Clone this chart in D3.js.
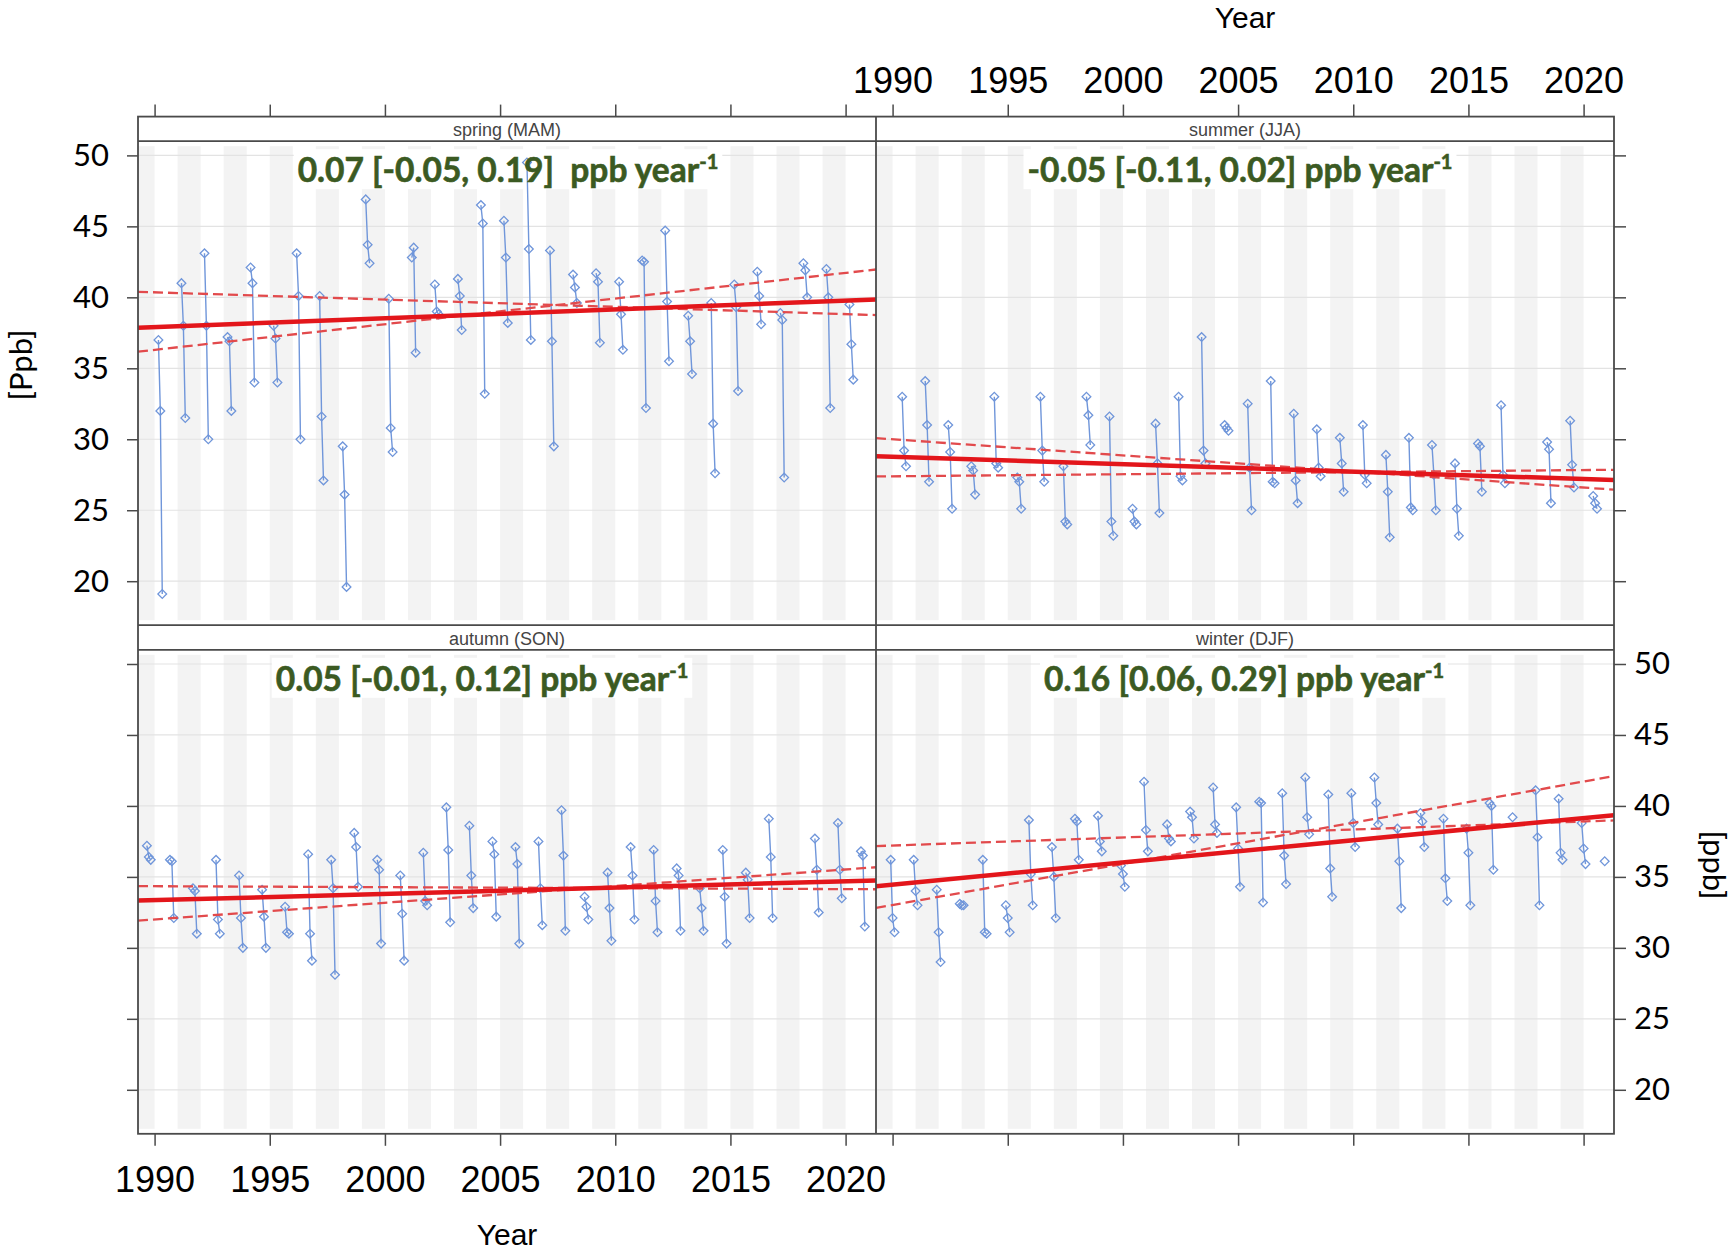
<!DOCTYPE html>
<html>
<head>
<meta charset="utf-8">
<script src="https://cdn.jsdelivr.net/npm/d3@7"></script>
<style>
  body { margin: 0; background: #fff; }
  svg { display: block; }
</style>
</head>
<body>
<svg id="chart"></svg>
<script>
// ---- data ----
const xDomain = [1989.28, 2021.32];
const yDomain = [16.9, 51.0];
const yearTicks = [1990, 1995, 2000, 2005, 2010, 2015, 2020];
const ppbTicks = [20, 25, 30, 35, 40, 45, 50];
const shadeYears = [1989, 1991, 1993, 1995, 1997, 1999, 2001, 2003, 2005, 2007, 2009, 2011, 2013, 2015, 2017, 2019];

const seasonLabels = ['spring (MAM)', 'summer (JJA)', 'autumn (SON)', 'winter (DJF)'];
const slopeTexts = ['0.07 [-0.05, 0.19]  ppb year', '-0.05 [-0.11, 0.02] ppb year', '0.05 [-0.01, 0.12] ppb year', '0.16 [0.06, 0.29] ppb year'];

// month of each of the three values (0 = December of the year before)
const springMonths = [3, 4, 5];
const summerMonths = [6, 7, 8];
const autumnMonths = [9, 10, 11];
const winterMonths = [0, 1, 2];

const springYears = [1990, 1991, 1992, 1993, 1994, 1995, 1996, 1997, 1998, 1999, 2000, 2001, 2002, 2003, 2004, 2005,
  2006, 2007, 2008, 2009, 2010, 2011, 2012, 2013, 2014, 2015, 2016, 2017, 2018, 2019, 2020];
const springValues = [
  [37.0, 32.0, 19.1], [41.0, 38.0, 31.5], [43.1, 38.0, 30.0], [37.2, 36.9, 32.0], [42.1, 41.0, 34.0],
  [38.0, 37.1, 34.0], [43.1, 40.1, 30.0], [40.1, 31.6, 27.1], [29.5, 26.1, 19.6], [46.9, 43.7, 42.4],
  [39.9, 30.8, 29.1], [42.8, 43.5, 36.1], [40.9, 39.0, 38.8], [41.3, 40.1, 37.7], [46.5, 45.2, 33.2],
  [45.4, 42.8, 38.2], [49.5, 43.4, 37.0], [43.3, 36.9, 29.5], [41.6, 40.7, 39.6], [41.7, 41.1, 36.8],
  [41.1, 38.8, 36.3], [42.6, 42.5, 32.2], [44.7, 39.7, 35.5], [38.7, 36.9, 34.6], [39.6, 31.1, 27.6],
  [40.9, 39.3, 33.4], [41.8, 40.1, 38.1], [38.9, 38.4, 27.3], [42.4, 41.9, 40.0], [42.0, 40.0, 32.2],
  [39.5, 36.7, 34.2]
];

const summerYears = [1990, 1991, 1992, 1993, 1994, 1995, 1996, 1997, 1998, 1999, 2000, 2001, 2002, 2003, 2004, 2005,
  2006, 2007, 2008, 2009, 2010, 2011, 2012, 2013, 2014, 2015, 2016, 2018, 2019, 2020];
const summerValues = [
  [33.0, 29.2, 28.1], [34.1, 31.0, 27.0], [31.0, 29.1, 25.1], [28.1, 27.8, 26.1], [33.0, 28.3, 28.0],
  [27.3, 27.0, 25.1], [33.0, 29.2, 27.0], [28.1, 24.2, 24.0], [33.0, 31.7, 29.6], [31.6, 24.2, 23.2],
  [25.1, 24.2, 24.0], [31.1, 28.3, 24.8], [33.0, 27.4, 27.1], [37.2, 29.2, 28.3], [31.0, 30.8, 30.6],
  [32.5, 28.0, 25.0], [34.1, 27.0, 26.9], [31.8, 27.1, 25.5], [30.7, 28.0, 27.4], [30.1, 28.3, 26.3],
  [31.0, 27.5, 26.9], [28.9, 26.3, 23.1], [30.1, 25.2, 25.0], [29.6, 27.5, 25.0], [28.3, 25.1, 23.2],
  [29.7, 29.5, 26.3], [32.4, 27.5, 26.9], [29.8, 29.3, 25.5], [31.3, 28.2, 26.6], [26.0, 25.5, 25.1]
];

const autumnYears = [1989, 1990, 1991, 1992, 1993, 1994, 1995, 1996, 1997, 1998, 1999, 2000, 2001, 2002, 2003, 2004,
  2005, 2006, 2007, 2008, 2009, 2010, 2011, 2012, 2013, 2014, 2015, 2016, 2018, 2019, 2020];
const autumnValues = [
  [37.2, 36.4, 36.2], [36.2, 36.1, 32.1], [34.2, 34.0, 31.0], [36.2, 32.0, 31.0], [35.1, 32.1, 30.0],
  [34.1, 32.2, 30.0], [32.9, 31.1, 31.0], [36.6, 31.0, 29.1], [36.2, 34.2, 28.1], [38.1, 37.1, 34.3],
  [36.2, 35.5, 30.3], [35.1, 32.4, 29.1], [36.7, 33.3, 33.0], [39.9, 36.9, 31.8], [38.6, 35.1, 32.8],
  [37.5, 36.6, 32.2], [37.1, 35.9, 30.3], [37.5, 34.2, 31.6], [39.7, 36.5, 31.2], [33.6, 32.9, 32.0],
  [35.3, 32.8, 30.5], [37.1, 35.1, 32.0], [36.9, 33.3, 31.1], [35.6, 35.1, 31.2], [34.2, 32.8, 31.2],
  [36.9, 33.6, 30.3], [35.3, 34.8, 32.1], [39.1, 36.4, 32.1], [37.7, 35.5, 32.5], [38.8, 35.5, 33.5],
  [36.8, 36.5, 31.5]
];

const winterYears = [1990, 1991, 1992, 1993, 1994, 1995, 1996, 1997, 1998, 1999, 2000, 2001, 2002, 2003, 2004, 2005,
  2006, 2007, 2008, 2009, 2010, 2011, 2012, 2013, 2014, 2015, 2016, 2017, 2018, 2019, 2020, 2021];
const winterValues = [
  [36.2, 32.1, 31.1], [36.2, 34.0, 33.0], [34.1, 31.1, 29.0], [33.1, 33.0, 33.0], [36.2, 31.1, 31.0],
  [33.0, 32.1, 31.1], [39.0, 35.2, 33.0], [37.1, 35.0, 32.1], [39.1, 38.9, 36.2], [39.3, 37.5, 36.8],
  [35.8, 35.2, 34.3], [41.7, 38.3, 36.8], [38.7, 37.7, 37.5], [39.6, 39.2, 37.7], [41.3, 38.7, 38.1],
  [39.9, 37.0, 34.3], [40.3, 40.2, 33.2], [40.9, 36.5, 34.5], [42.0, 39.2, 38.0], [40.8, 35.6, 33.6],
  [40.9, 38.8, 37.1], [42.0, 40.2, 38.7], [38.4, 36.1, 32.8], [39.5, 38.9, 37.1], [39.1, 34.9, 33.3],
  [38.4, 36.7, 33.0], [40.2, 40.0, 35.5], [39.2, null, null], [41.1, 37.8, 33.0], [40.5, 36.7, 36.2],
  [38.8, 37.0, 35.9], [36.1, null, null]
];

// trend lines: value at the left and right edge of the panel
const springTrend = [37.86, 39.85], springLower = [40.39, 38.75], springUpper = [36.17, 41.96];
const summerTrend = [28.80, 27.13], summerLower = [30.08, 26.45], summerUpper = [27.38, 27.85];
const autumnTrend = [33.33, 34.75], autumnLower = [34.35, 34.13], autumnUpper = [31.92, 35.68];
const winterTrend = [34.34, 39.35], winterLower = [37.17, 38.98], winterUpper = [32.81, 42.10];

// ---- layout ----
const width = 1734, height = 1253;
const panelW = 738, stripH = 24.6, plotH = 484;
const colX = [138, 876];
const rowY = [116.6, 625.2];

const panels = [
  { label: seasonLabels[0], years: springYears, values: springValues, months: springMonths,
    trend: springTrend, lower: springLower, upper: springUpper, text: slopeTexts[0], col: 0, row: 0, textX: 508 },
  { label: seasonLabels[1], years: summerYears, values: summerValues, months: summerMonths,
    trend: summerTrend, lower: summerLower, upper: summerUpper, text: slopeTexts[1], col: 1, row: 0, textX: 1240 },
  { label: seasonLabels[2], years: autumnYears, values: autumnValues, months: autumnMonths,
    trend: autumnTrend, lower: autumnLower, upper: autumnUpper, text: slopeTexts[2], col: 0, row: 1, textX: 482 },
  { label: seasonLabels[3], years: winterYears, values: winterValues, months: winterMonths,
    trend: winterTrend, lower: winterLower, upper: winterUpper, text: slopeTexts[3], col: 1, row: 1, textX: 1244 }
];

const frameColor = '#4a4a4a';
const blue = '#7096da';
const textGreen = '#3b5a22';

const svg = d3.select('#chart')
  .attr('width', width)
  .attr('height', height)
  .attr('viewBox', `0 0 ${width} ${height}`);

svg.append('rect').attr('width', width).attr('height', height).attr('fill', '#fff');

const defs = svg.append('defs');
const diamond = d3.symbol(d3.symbolSquare, 38)();

panels.forEach((p, i) => {
  const x0 = colX[p.col];
  const top = rowY[p.row];
  const plotTop = top + stripH;
  const plotBottom = plotTop + plotH;

  const x = d3.scaleLinear().domain(xDomain).range([x0, x0 + panelW]);
  const y = d3.scaleLinear().domain(yDomain).range([plotBottom, plotTop]);

  defs.append('clipPath').attr('id', `clip${i}`)
    .append('rect')
    .attr('x', x0).attr('y', plotTop)
    .attr('width', panelW).attr('height', plotH);

  const g = svg.append('g').attr('clip-path', `url(#clip${i})`);

  // alternate-year shading
  g.selectAll('rect.shade')
    .data(shadeYears)
    .join('rect')
    .attr('class', 'shade')
    .attr('x', d => x(d))
    .attr('width', d => x(d + 1) - x(d))
    .attr('y', plotTop + 5)
    .attr('height', plotH - 10)
    .attr('fill', '#f3f3f3');

  // horizontal grid
  g.selectAll('line.grid')
    .data(ppbTicks)
    .join('line')
    .attr('class', 'grid')
    .attr('x1', x0).attr('x2', x0 + panelW)
    .attr('y1', d => y(d)).attr('y2', d => y(d))
    .attr('stroke', '#e3e3e3')
    .attr('stroke-width', 1.2);

  // white box behind the slope text
  const baseY = plotTop + 41;
  const box = g.append('rect')
    .attr('fill', '#fff');

  // monthly values, one connected group per season-year
  const pts = p.years.map((yr, k) => p.values[k].map((v, m) => ({
    t: yr + (p.months[m] - 1) / 12,
    v: v
  })));

  const line = d3.line()
    .defined(d => d.v != null)
    .x(d => x(d.t))
    .y(d => y(d.v));

  g.selectAll('path.season')
    .data(pts)
    .join('path')
    .attr('class', 'season')
    .attr('d', line)
    .attr('fill', 'none')
    .attr('stroke', blue)
    .attr('stroke-width', 1.4);

  g.selectAll('path.pt')
    .data(pts.flat().filter(d => d.v != null))
    .join('path')
    .attr('class', 'pt')
    .attr('d', diamond)
    .attr('transform', d => `translate(${x(d.t)},${y(d.v)}) rotate(45)`)
    .attr('fill', 'none')
    .attr('stroke', blue)
    .attr('stroke-width', 1.3);

  // Theil-Sen trend and its slope interval
  const trendLine = d3.line().x(d => x(d[0])).y(d => y(d[1]));
  [p.lower, p.upper].forEach(t => {
    g.append('path')
      .datum([[xDomain[0], t[0]], [xDomain[1], t[1]]])
      .attr('d', trendLine)
      .attr('fill', 'none')
      .attr('stroke', '#e24a4c')
      .attr('stroke-width', 2.3)
      .attr('stroke-dasharray', '10,5');
  });
  g.append('path')
    .datum([[xDomain[0], p.trend[0]], [xDomain[1], p.trend[1]]])
    .attr('d', trendLine)
    .attr('fill', 'none')
    .attr('stroke', '#e3161b')
    .attr('stroke-width', 4.5);

  // slope text
  const txt = svg.append('text')
    .attr('x', p.textX)
    .attr('y', baseY)
    .attr('text-anchor', 'middle')
    .attr('fill', textGreen)
    .attr('stroke', textGreen)
    .attr('stroke-width', 0.6)
    .style('font-family', 'Lato, "Open Sans", sans-serif')
    .style('font-weight', 'bold')
    .style('font-size', '33.5px')
    .style('white-space', 'pre');
  txt.append('tspan').text(p.text);
  txt.append('tspan')
    .attr('dy', -13)
    .style('font-size', '20px')
    .text('-1');
  const bb = txt.node().getBBox();
  box.attr('x', bb.x - 4).attr('y', bb.y).attr('width', bb.width + 8).attr('height', bb.height);

  // strip
  svg.append('rect')
    .attr('x', x0).attr('y', top)
    .attr('width', panelW).attr('height', stripH)
    .attr('fill', '#fff');
  svg.append('text')
    .attr('x', x0 + panelW / 2)
    .attr('y', top + stripH - 5)
    .attr('text-anchor', 'middle')
    .attr('fill', '#444')
    .style('font-family', '"Liberation Sans", Arial, sans-serif')
    .style('font-size', '18px')
    .text(p.label);

  // axes (lattice style: labels alternate between sides)
  const styleAxis = (sel, fontSize, family) => {
    sel.select('.domain').remove();
    sel.selectAll('.tick line').attr('stroke', frameColor).attr('stroke-width', 1.5);
    sel.selectAll('.tick text')
      .attr('fill', '#000')
      .style('font-family', family)
      .style('font-size', fontSize);
  };

  if (p.row === 0) {
    const ax = d3.axisTop(x).tickValues(yearTicks).tickSize(12).tickPadding(11.6)
      .tickFormat(p.col === 1 ? d3.format('d') : '');
    svg.append('g').attr('transform', `translate(0,${top})`).call(ax)
      .call(s => styleAxis(s, '36px', '"Liberation Sans", Arial, sans-serif'));
  } else {
    const ax = d3.axisBottom(x).tickValues(yearTicks).tickSize(12).tickPadding(21)
      .tickFormat(p.col === 0 ? d3.format('d') : '');
    svg.append('g').attr('transform', `translate(0,${plotBottom})`).call(ax)
      .call(s => styleAxis(s, '36px', '"Liberation Sans", Arial, sans-serif'));
  }
  if (p.col === 0) {
    const ax = d3.axisLeft(y).tickValues(ppbTicks).tickSize(11).tickPadding(18)
      .tickFormat(p.row === 0 ? d3.format('d') : '');
    svg.append('g').attr('transform', `translate(${x0},0)`).call(ax)
      .call(s => styleAxis(s, '31px', 'Lato, "Open Sans", sans-serif'));
  } else {
    const ax = d3.axisRight(y).tickValues(ppbTicks).tickSize(12).tickPadding(8)
      .tickFormat(p.row === 1 ? d3.format('d') : '');
    svg.append('g').attr('transform', `translate(${x0 + panelW},0)`).call(ax)
      .call(s => styleAxis(s, '31px', 'Lato, "Open Sans", sans-serif'));
  }
});

// frame lines
const frame = svg.append('g')
  .attr('fill', 'none')
  .attr('stroke', frameColor)
  .attr('stroke-width', 1.8);
const fullTop = rowY[0];
const fullBottom = rowY[1] + stripH + plotH;
frame.append('rect')
  .attr('x', colX[0]).attr('y', fullTop)
  .attr('width', panelW * 2).attr('height', fullBottom - fullTop);
frame.append('line')
  .attr('x1', colX[1]).attr('x2', colX[1])
  .attr('y1', fullTop).attr('y2', fullBottom);
[rowY[0] + stripH, rowY[1], rowY[1] + stripH].forEach(yy => {
  frame.append('line')
    .attr('x1', colX[0]).attr('x2', colX[0] + panelW * 2)
    .attr('y1', yy).attr('y2', yy);
});

// axis titles
const titleFont = '"Liberation Sans", Arial, sans-serif';
svg.append('text')
  .attr('x', colX[1] + panelW / 2).attr('y', 28)
  .attr('text-anchor', 'middle')
  .style('font-family', titleFont).style('font-size', '30px')
  .text('Year');
svg.append('text')
  .attr('x', colX[0] + panelW / 2).attr('y', 1245)
  .attr('text-anchor', 'middle')
  .style('font-family', titleFont).style('font-size', '30px')
  .text('Year');
svg.append('text')
  .attr('transform', 'translate(32,365) rotate(-90)')
  .attr('text-anchor', 'middle')
  .style('font-family', 'Lato, "Open Sans", sans-serif').style('font-size', '31px')
  .text('[Ppb]');
svg.append('text')
  .attr('transform', 'translate(1703,865) rotate(90)')
  .attr('text-anchor', 'middle')
  .style('font-family', 'Lato, "Open Sans", sans-serif').style('font-size', '31px')
  .text('[ppb]');
</script>
</body>
</html>
